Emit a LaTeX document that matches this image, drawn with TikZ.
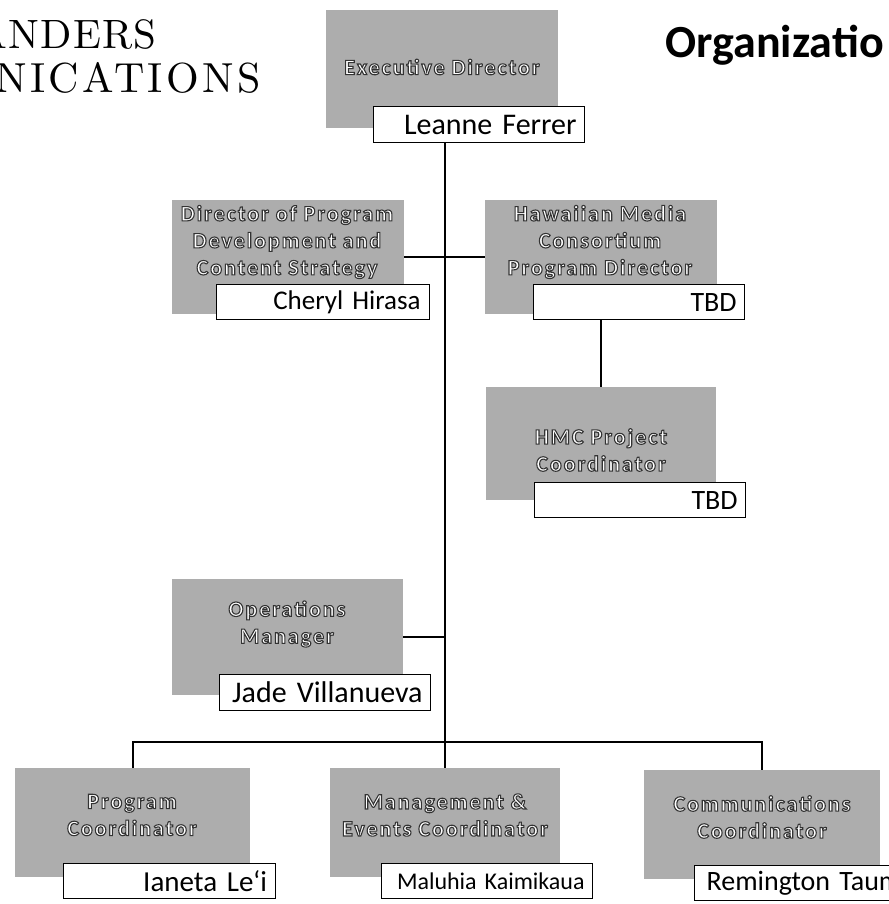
\documentclass[tikz,border=0pt]{standalone}
\usepackage{fontspec}
\newfontfamily\namefont{Carlito}
\newfontfamily\rolefont[LetterSpace=9]{Carlito Bold}
\newfontfamily\headfont[LetterSpace=3]{lmroman10-regular.otf}
\newfontfamily\headwidefont[LetterSpace=8]{lmroman10-regular.otf}
% white letters with a dark rim, as in the scanned chart
\newcommand\embossed[1]{\special{pdf:literal direct 0.2 0.2 0.2 RG 1.1 w 2 Tr}#1\special{pdf:literal direct 0 Tr}}

\begin{document}
\begin{tikzpicture}[x=1pt,y=-1pt,
  role/.style={fill=black!32, minimum width=232, minimum height=116, anchor=north west, inner sep=0pt},
  roletext/.style={text=white, align=center, inner sep=0pt, font=\rolefont\fontsize{22}{27}\selectfont},
  person/.style={draw, fill=white, line width=1.2, anchor=north west, minimum width=211, minimum height=36,
    text width=195, align=right, inner xsep=8, inner ysep=0, font=\namefont\fontsize{28}{30}\selectfont},
  link/.style={line width=1.6}]
\useasboundingbox (0,0) rectangle (888,904);

\node[anchor=base east, font=\headfont\fontsize{41}{41}\selectfont] (head1) at (160,49) {ANDERS};
\node[anchor=base east, font=\headwidefont\fontsize{42}{42}\selectfont] (head2) at (264,93) {NICATIONS};
\node[anchor=base west, font=\namefont\bfseries\fontsize{46}{46}\selectfont] (title) at (662,58) {Organizatio};

% top
\node[role, minimum height=118] (exec) at (326,10) {};
\node[roletext] (exec-t) at (442,67) {\embossed{Executive Director}};
\node[person, font=\namefont\fontsize{30}{32}\selectfont] (exec-n) at (373,106) {Leanne Ferrer};

% second row
\node[role, minimum height=114] (dpd) at (172,200) {};
\node[roletext] (dpd-t) at (287,242) {\embossed{Director of Program\\Development and\\Content Strategy}};
\node[person, minimum width=213, minimum height=35, font=\namefont\fontsize{27}{29}\selectfont] (dpd-n) at (216,284) {Cheryl Hirasa};

\node[role, minimum height=114] (hmc) at (485,200) {};
\node[roletext] (hmc-t) at (600,242) {\embossed{Hawaiian Media\\Consortium\\Program Director}};
\node[person, minimum height=35] (hmc-n) at (533,284) {TBD};

\node[role, minimum width=230, minimum height=113] (hmcp) at (486,387) {};
\node[roletext] (hmcp-t) at (601,450) {\embossed{HMC Project\\Coordinator}};
\node[person, minimum width=209, minimum height=35] (hmcp-n) at (534,482) {TBD};

\node[role, minimum width=231] (ops) at (172,579) {};
\node[roletext] (ops-t) at (287,624) {\embossed{Operations\\Manager}};
\node[person, minimum width=209, font=\namefont\fontsize{30}{32}\selectfont] (ops-n) at (219,674) {Jade Villanueva};

% bottom row
\node[role, minimum width=235, minimum height=109] (pc) at (15,768) {};
\node[roletext] (pc-t) at (132,815) {\embossed{Program\\Coordinator}};
\node[person, minimum width=212, minimum height=35, font=\namefont\fontsize{29}{31}\selectfont] (pc-n) at (63,863) {Ianeta Le‘i};

\node[role, minimum width=230, minimum height=109] (mec) at (330,768) {};
\node[roletext] (mec-t) at (445,815) {\embossed{Management \&\\Events Coordinator}};
\node[person, minimum width=206, minimum height=35, font=\namefont\fontsize{24}{26}\selectfont] (mec-n) at (381,863) {Maluhia Kaimikaua};

\node[role, minimum width=236, minimum height=109] (cc) at (644,770) {};
\node[roletext] (cc-t) at (762,817) {\embossed{Communications\\Coordinator}};
\node[person, minimum height=35, align=left, text width=200, inner xsep=12, minimum width=224] (cc-n) at (694,865) {Remington Taum};

\coordinate (bus) at (445,742);

\draw[link] (exec-n.south -| mec.north) -- (mec.north);
\draw[link] (dpd.east) -- (hmc.west);
\draw[link] (hmc-n.south -| hmcp.north) -- (hmcp.north);
\draw[link] (ops.east) -- (ops.east -| mec.north);
\draw[link] (pc.north) |- (bus) -| (cc.north);

\end{tikzpicture}
\end{document}
